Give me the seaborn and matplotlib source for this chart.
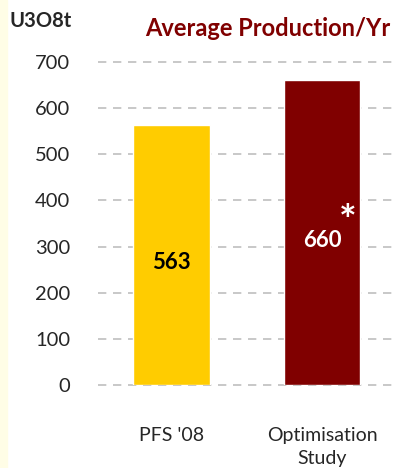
import matplotlib
matplotlib.use("Agg")
import matplotlib.pyplot as plt
import seaborn as sns
import pandas as pd

categories = ["PFS '08", "Optimisation\nStudy"]
production = [563, 660]
bar_colors = ["#FFCC00", "#800000"]
label_colors = ["black", "white"]
yticks = [0, 100, 200, 300, 400, 500, 600, 700]

sns.set_style("white")
plt.rcParams["font.family"] = ["Lato", "DejaVu Sans"]

df = pd.DataFrame({"case": categories, "tonnes": production})

fig = plt.figure(figsize=(4.15, 4.68), dpi=100)
fig.patch.set_facecolor("white")
# pale strip on the left edge
fig.patches.append(plt.Rectangle((0, 0), 0.016, 1, transform=fig.transFigure,
                                 color="#FFFDE6", zorder=0))
ax = fig.add_axes([0.236, 0.177, 0.721, 0.691])

sns.barplot(data=df, x="case", y="tonnes", hue="case", palette=bar_colors,
            width=0.51, legend=False, ax=ax, zorder=3, saturation=1)

ax.set_ylim(0, 700)
ax.set_xlim(-0.49, 1.5)
ax.set_yticks(yticks)
ax.yaxis.grid(True, color="#BFBFBF", linestyle=(0, (5, 4)), linewidth=1.2, zorder=0)
ax.xaxis.grid(False)
for g in ax.get_ygridlines():
    g.set_clip_on(False)
for s in ax.spines.values():
    s.set_visible(False)
ax.tick_params(axis="y", length=0, pad=20, labelsize=14.5)
ax.tick_params(axis="x", length=0, pad=30, labelsize=14)
for t in ax.get_xticklabels():
    t.set_linespacing(1.45)
ax.set_xlabel("")
ax.set_ylabel("")

for i, (v, c) in enumerate(zip(production, label_colors)):
    ax.text(i, v / 2 - 16, str(v), ha="center", va="center", fontsize=16,
            fontweight="bold", color=c, zorder=5)
ax.text(1.17, 352, "*", ha="center", va="center", fontsize=30,
        fontweight="bold", color="white", zorder=5)

fig.text(0.024, 0.955, "U3O8t", ha="left", va="center", fontsize=14.5, fontweight="bold")
fig.text(0.645, 0.94, "Average Production/Yr", ha="center", va="center",
         fontsize=17, fontweight="bold", color="#800000")

fig.savefig("out.png", dpi=100)
